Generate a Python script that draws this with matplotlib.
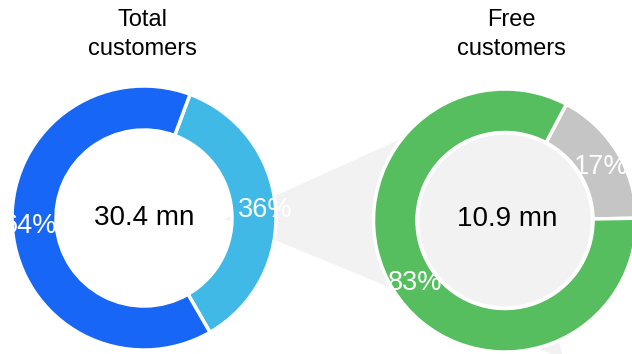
import numpy as np
import matplotlib
matplotlib.use("Agg")
import matplotlib.pyplot as plt
from matplotlib.patches import Polygon, Circle

plt.rcParams['font.family'] = ['Liberation Sans', 'DejaVu Sans']

# ---- data ----
total_categories = ["Free", "Paid"]
total_values = [36, 64]          # %: free (light blue), paid (blue)
total_colors = ["#41B9E6", "#1866F6"]
total_label = "30.4 mn"
total_title = "Total\ncustomers"

free_categories = ["Other", "Free"]
free_values = [17, 83]           # %
free_colors = ["#C5C5C5", "#56BE5F"]
free_label = "10.9 mn"
free_title = "Free\ncustomers"

W, H = 632, 354
fig = plt.figure(figsize=(W / 100, H / 100), dpi=100)
ax = fig.add_axes([0, 0, 1, 1])

def up(y):
    return H - y

# connector (bar-of-pie style funnel)
funnel = Polygon([(224, up(219)), (505, up(92)), (562, up(354)), (551.5, up(354))],
                 closed=True, facecolor="#F2F2F2", edgecolor="none", zorder=0)
ax.add_patch(funnel)

fmt = lambda p: f"{p:.0f}%"

def place_labels(wedges, texts, center, radii, dang):
    for w, t, r, d in zip(wedges, texts, radii, dang):
        ang = np.deg2rad((w.theta1 + w.theta2) / 2 + d)
        t.set_position((center[0] + r * np.cos(ang), center[1] + r * np.sin(ang)))
        t.set_zorder(5)

# left donut
lc = (144, up(218))
w1, t1, a1 = ax.pie(total_values, colors=total_colors, startangle=-60,
                    counterclock=True, radius=132, center=lc,
                    wedgeprops=dict(width=44, edgecolor="white", linewidth=2.5),
                    autopct=fmt, pctdistance=0.89,
                    textprops=dict(color="white", fontsize=19.5))
for w in w1:
    w.set_zorder(2)
place_labels(w1, a1, lc, [121, 114], [-1, -0.8])

# right donut
rc = (505, up(220.5))
w2, t2, a2 = ax.pie(free_values, colors=free_colors, startangle=1,
                    counterclock=True, radius=131.5, center=rc,
                    wedgeprops=dict(width=43.5, edgecolor="white", linewidth=2.5),
                    autopct=fmt, pctdistance=0.84,
                    textprops=dict(color="white", fontsize=19.5))
for w in w2:
    w.set_zorder(2)
place_labels(w2, a2, rc, [110, 109], [-2.5, 3.1])
ax.add_patch(Circle(rc, 87.5, facecolor="#F2F2F2", edgecolor="white",
                    linewidth=2.5, zorder=3))

# center labels
ax.text(lc[0], lc[1], total_label, ha="center", va="center", fontsize=20,
        color="black", zorder=6)
ax.text(rc[0] + 2, rc[1] + 2, free_label, ha="center", va="center", fontsize=20,
        color="black", zorder=6)

# titles
ax.text(142, up(34.5), total_title, ha="center", va="center", fontsize=17,
        linespacing=1.36, color="black")
ax.text(511, up(34.5), free_title, ha="center", va="center", fontsize=17,
        linespacing=1.36, color="black")

ax.set_xlim(0, W)
ax.set_ylim(0, H)
ax.set_aspect("equal")
ax.axis("off")

fig.savefig("out.png", dpi=100, facecolor="white")
